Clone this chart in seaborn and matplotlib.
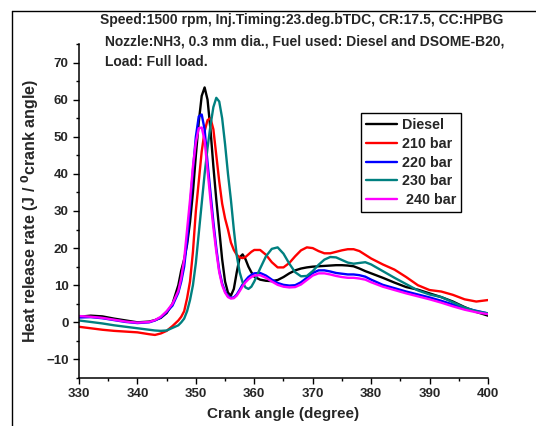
import pandas as pd
import seaborn as sns
import matplotlib.pyplot as plt
from matplotlib.lines import Line2D
from matplotlib.ticker import MultipleLocator

# Crank angle grid (degree)
crank = [330, 332, 334, 336, 338, 340, 342, 343, 344, 345, 346, 347, 347.5, 348, 348.5,
         349, 349.5, 350, 350.5, 351, 351.5, 352, 352.5, 353, 353.5, 354, 354.5, 355,
         355.5, 356, 356.5, 357, 357.5, 358, 358.5, 359, 359.5, 360, 361, 362, 363, 364,
         365, 366, 367, 368, 369, 370, 371, 372, 373, 374, 375, 376, 377, 378, 379, 380,
         382, 384, 386, 388, 390, 392, 394, 396, 398, 400]

# Heat release rate values
diesel = [1.5, 1.8, 1.6, 1.0, 0.5, 0.0, 0.2, 0.6, 1.2, 2.5, 5, 10, 14, 17, 21,
          27, 35, 45, 54, 61, 63.3, 60, 52, 42, 33, 25, 17, 11,
          8, 7.2, 9, 13.5, 17.5, 18.3, 17, 15, 13.5, 12.3, 11.5, 11.2, 11.1, 11.4,
          12.2, 13.2, 14, 14.5, 14.8, 15, 15.1, 15.2, 15.3, 15.4, 15.4, 15.3, 15.1, 14.5, 13.8, 13.2,
          12, 10.7, 9.5, 8.8, 7.8, 6.8, 5.6, 4.1, 2.8, 1.8]

bar210 = [-1.2, -1.6, -2.0, -2.3, -2.5, -2.7, -3.2, -3.4, -3.0, -2.3, -1.0, 0.5, 1.5, 3, 6.5,
          11, 19, 30, 38, 46, 51.5, 54.5, 55, 52, 45, 38, 32, 28,
          25, 21.5, 19.5, 18.2, 17.5, 17.3, 17.6, 18.3, 19.0, 19.5, 19.5, 18.2, 16.2, 14.8,
          14.8, 16, 17.8, 19.4, 20.2, 20.0, 19.2, 18.6, 18.6, 19.0, 19.4, 19.7, 19.7, 19.2, 18.2, 17.2,
          15.6, 14.2, 12.2, 10.0, 8.7, 8.3, 7.4, 6.2, 5.6, 6.0]

bar220 = [1.3, 1.4, 1.1, 0.6, 0.1, -0.2, 0.0, 0.5, 1.3, 2.8, 4.5, 8, 11, 15, 22,
          31, 41, 50, 55.5, 56, 52, 43, 35, 27, 20, 14, 10.5, 8.3,
          7.0, 6.6, 6.7, 7.5, 8.8, 10.2, 11.3, 12.2, 12.8, 13.2, 13.3, 12.6, 11.5, 10.6,
          10.1, 9.9, 10.0, 10.8, 12.0, 13.3, 14.0, 14.0, 13.7, 13.3, 13.1, 12.9, 12.9, 12.7, 12.3, 11.5,
          10.1, 9.2, 8.3, 7.5, 6.7, 5.8, 4.8, 3.8, 3.1, 2.4]

bar230 = [0.5, 0.1, -0.3, -0.8, -1.2, -1.6, -2.0, -2.2, -2.3, -2.2, -1.5, -0.8, 0, 1, 3,
          6, 10, 16, 24, 32, 40, 47, 53, 58, 60.5, 59.5, 55, 48,
          40, 33, 25, 18, 13.5, 10.8, 9.4, 9.0, 9.6, 11, 14.5, 17.8, 19.8, 20.2,
          18.5, 15.8, 13.5, 12.4, 12.5, 13.8, 15.5, 16.9, 17.6, 17.5, 16.8, 16.1, 15.8, 16.0, 16.2, 15.6,
          13.8, 12.0, 10.3, 8.6, 7.5, 6.8, 5.4, 4.0, 3.0, 2.4]

bar240 = [1.7, 1.5, 1.2, 0.7, 0.2, -0.1, 0.1, 0.6, 1.5, 3.0, 5, 8.5, 12, 17, 25,
          33, 42, 48.5, 52.3, 52.5, 49, 41, 33, 25.5, 19, 13.5, 10, 8,
          6.8, 6.4, 6.5, 7.2, 8.4, 9.7, 10.8, 11.6, 12.2, 12.6, 12.7, 12.0, 11.0, 10.1,
          9.6, 9.4, 9.5, 10.2, 11.4, 12.6, 13.2, 13.2, 12.9, 12.5, 12.2, 12.0, 12.0, 11.8, 11.5, 10.8,
          9.6, 8.7, 7.8, 7.0, 6.2, 5.3, 4.3, 3.4, 2.7, 2.2]

labels = ['Diesel', '210 bar', '220 bar', '230 bar', ' 240 bar']
colors = ['black', '#ff0000', '#0000ff', '#008080', '#ff00ff']
series = [diesel, bar210, bar220, bar230, bar240]

sns.set_style('ticks')
plt.rcParams['font.family'] = ['Liberation Sans', 'DejaVu Sans']
plt.rcParams['font.weight'] = 'bold'
plt.rcParams['mathtext.default'] = 'bf'

fig = plt.figure(figsize=(5.36, 4.26), dpi=100)
ax = fig.add_axes([0.1474, 0.1127, 0.7630, 0.7840])

for vals, lab, col in zip(series, labels, colors):
    df = pd.DataFrame({'crank': crank, 'hrr': vals})
    sns.lineplot(data=df, x='crank', y='hrr', color=col, label=lab, lw=1.7, ax=ax)

ax.set_xlim(330, 400)
ax.set_ylim(-15, 75)
ax.xaxis.set_major_locator(MultipleLocator(10))
ax.xaxis.set_minor_locator(MultipleLocator(5))
ax.yaxis.set_minor_locator(MultipleLocator(5))
ax.set_yticks([-10, 0, 10, 20, 30, 40, 50, 60, 70])
ax.tick_params(which='major', direction='out', length=4.5, width=1, color='black',
               labelsize=9.5, pad=3)
ax.tick_params(which='minor', direction='out', length=2.5, width=1, color='black')
for lab in ax.get_xticklabels() + ax.get_yticklabels():
    lab.set_fontweight('bold')

sns.despine(ax=ax)
for s in ['left', 'bottom']:
    ax.spines[s].set_linewidth(1.1)
    ax.spines[s].set_color('black')

ax.set_xlabel('Crank angle (degree)', fontsize=11, fontweight='bold', labelpad=5)
ax.set_ylabel('Heat release rate (J / $^{0}$crank angle)', fontsize=11.5,
              fontweight='bold', labelpad=4)

leg = ax.legend(loc='upper left', bbox_to_anchor=(0.689, 0.793), borderaxespad=0,
                frameon=True, fancybox=False, edgecolor='black', framealpha=1,
                fontsize=10.3, handlelength=2.2, handletextpad=0.3, labelspacing=0.33,
                borderpad=0.35)
leg.get_frame().set_linewidth(1.0)
for t in leg.get_texts():
    t.set_fontweight('bold')

# title block
tfs = 10
fig.text(100 / 536, 1 - 20 / 426, 'Speed:1500 rpm, Inj.Timing:23.deg.bTDC, CR:17.5, CC:HPBG',
         fontsize=tfs, fontweight='bold', va='center', ha='left')
fig.text(105 / 536, 1 - 41 / 426, 'Nozzle:NH3, 0.3 mm dia., Fuel used: Diesel and DSOME-B20,',
         fontsize=tfs, fontweight='bold', va='center', ha='left')
fig.text(105 / 536, 1 - 62 / 426, 'Load: Full load.',
         fontsize=tfs, fontweight='bold', va='center', ha='left')

# outer frame (left and top edges)
fx = 12 / 536
fy = 1 - 11 / 426
fig.add_artist(Line2D([fx, fx], [0, fy], transform=fig.transFigure, color='black', lw=1))
fig.add_artist(Line2D([fx, 1], [fy, fy], transform=fig.transFigure, color='black', lw=1))

fig.savefig('out.png', dpi=100)
